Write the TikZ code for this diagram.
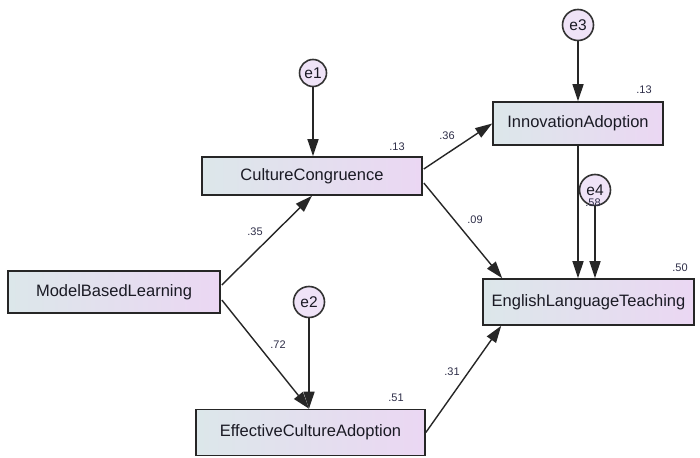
\documentclass[tikz,border=0pt]{standalone}
\usepackage{fontspec}
\setmainfont{Liberation Sans}
\usetikzlibrary{arrows.meta,calc}
\definecolor{boxL}{HTML}{DCE7EA}
\definecolor{boxR}{HTML}{EBD7F3}
\definecolor{circfill}{HTML}{EFE3F7}
\definecolor{numcol}{HTML}{2E2E48}
\definecolor{txtcol}{HTML}{1A1A24}
\tikzset{
  var/.style={draw=black!85, line width=1.6pt, left color=boxL, right color=boxR,
    inner sep=0pt, text=txtcol, font=\fontsize{16.5}{19}\selectfont},
  err/.style={circle, draw=black!80, line width=1.6pt, fill=circfill, inner sep=0pt,
    minimum size=31pt, text=txtcol, font=\fontsize{15.5}{18}\selectfont},
  path/.style={line width=1.4pt, draw=black!85, -{Triangle[length=17pt,width=11pt]}},
  coef/.style={text=numcol, font=\fontsize{11}{12}\selectfont, inner sep=0pt}
}
\begin{document}
\begin{tikzpicture}[x=1pt,y=-1pt]
\fill[white] (0,0) rectangle (700,457);
\useasboundingbox (0,0) rectangle (700,457);
% observed variables
\node[var, minimum width=212pt, minimum height=42pt] (mbl) at (114,292) {ModelBasedLearning};
\node[var, minimum width=220pt, minimum height=38pt] (cc) at (312,176) {CultureCongruence};
\node[var, minimum width=170pt, minimum height=43pt] (ia) at (578,123.5) {InnovationAdoption};
\node[var, minimum width=211pt, minimum height=46pt] (elt) at (588.5,302) {EnglishLanguageTeaching};
\node[var, minimum width=229pt, minimum height=46pt] (eca) at (310.5,432.5) {EffectiveCultureAdoption};
% error terms
\node[err, minimum size=27pt] (e1) at (313,73) {e1};
\node[err] (e2) at (309,302) {e2};
\node[err] (e3) at (578,25) {e3};
\node[err] (e4) at (595,190) {e4};
% paths
\draw[path] ($(mbl.east)+(1,-7)$) -- (cc.south);
\draw[path] ($(mbl.east)+(1,8)$) -- (eca.north -| e2);
\draw[path] ($(cc.east)+(1,-7)$) -- (ia.west);
\draw[path] ($(cc.east)+(1,7)$) -- ($(elt.north west)+(20,0)$);
\draw[path] (eca.east) -- ($(elt.south west)+(19,0)$);
\draw[path] (ia.south -| e3) -- (elt.north -| e3);
\draw[path] (e1) -- (cc.north -| e1);
\draw[path] (e2) -- (eca.north -| e2);
\draw[path] (e3) -- (ia.north);
\draw[path] (e4) -- (elt.north -| e4);
% coefficients
\node[coef] (c1) at (255,232) {.35};
\node[coef] (c2) at (278,345) {.72};
\node[coef] (c3) at (447,136) {.36};
\node[coef] (c4) at (475,220) {.09};
\node[coef] (c5) at (452,372) {.31};
% squared multiple correlations
\node[coef] (r1) at (397,147) {.13};
\node[coef] (r2) at (644,90) {.13};
\node[coef] (r3) at (680,268) {.50};
\node[coef] (r4) at (396,398) {.51};
\node[coef] (r5) at (593,203) {.58};
\end{tikzpicture}
\end{document}
